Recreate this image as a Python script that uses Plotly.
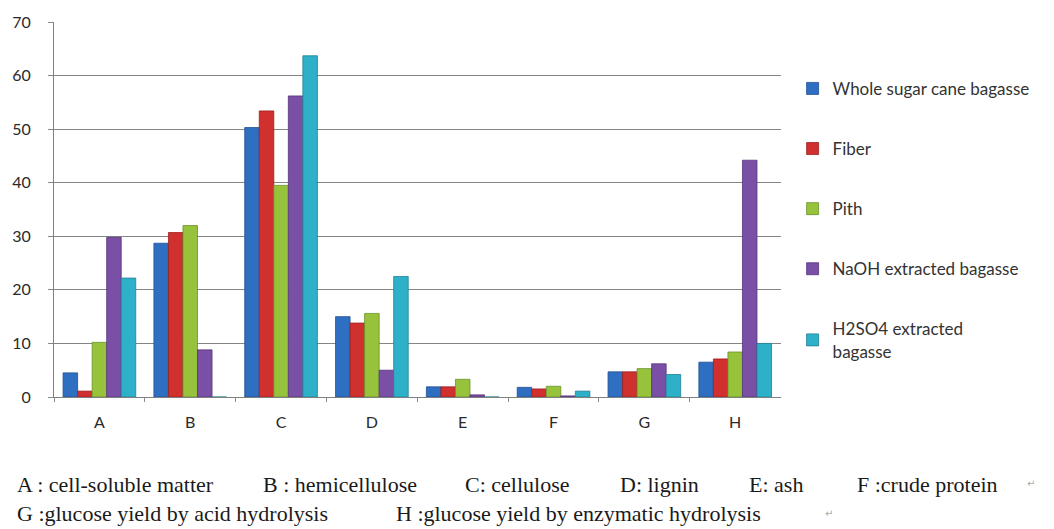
import plotly.graph_objects as go

# Components and glucose yields (%) for each bagasse fraction
categories = ["A", "B", "C", "D", "E", "F", "G", "H"]
series_names = [
    "Whole sugar cane bagasse",
    "Fiber",
    "Pith",
    "NaOH extracted bagasse",
    "H2SO4 extracted<br>bagasse",
]
whole_bagasse = [4.5, 28.7, 50.3, 15.0, 1.9, 1.8, 4.7, 6.5]
fiber = [1.1, 30.7, 53.4, 13.8, 1.9, 1.5, 4.7, 7.1]
pith = [10.2, 32.0, 39.5, 15.6, 3.3, 2.0, 5.3, 8.4]
naoh_extracted = [29.8, 8.8, 56.2, 5.0, 0.4, 0.2, 6.2, 44.2]
h2so4_extracted = [22.2, 0.0, 63.7, 22.5, 0.0, 1.1, 4.2, 10.0]
y_ticks = [0, 10, 20, 30, 40, 50, 60, 70]

colors = ["#2f6fc2", "#d0302e", "#96c23c", "#7a4fa6", "#2fb0c9"]
edge_colors = ["#1f4f90", "#9a2020", "#6a9028", "#56357a", "#1f8096"]

footnote_line1 = [
    ("A : cell-soluble matter", 14),
    ("B : hemicellulose", 262),
    ("C: cellulose", 466),
    ("D: lignin", 623),
    ("E: ash", 753),
    ("F :crude protein", 862),
]
footnote_line2 = [
    ("G :glucose yield by acid hydrolysis", 14),
    ("H :glucose yield by enzymatic hydrolysis", 396),
]

W, H = 1054, 529
L, R, T, B = 53, 267, 21, 132

fig = go.Figure()
for i, (name, vals) in enumerate(zip(series_names,
                                     [whole_bagasse, fiber, pith, naoh_extracted, h2so4_extracted])):
    fig.add_trace(go.Bar(
        x=categories, y=vals, name=name,
        legendgroup=f"g{i}",
        marker=dict(color=colors[i], line=dict(color=edge_colors[i], width=0.8)),
    ))

fig.update_layout(
    width=W, height=H,
    margin=dict(l=L, r=R, t=T, b=B, pad=0),
    paper_bgcolor="white", plot_bgcolor="white",
    barmode="group", bargap=0.2, bargroupgap=0.0,
    font=dict(family="Lato, Open Sans, sans-serif", size=16, color="#333333"),
    showlegend=True,
    legend=dict(
        x=0.752, xref="container", y=0.866, yref="container",
        xanchor="left", yanchor="top",
        tracegroupgap=35, itemwidth=30, maxheight=500,
        font=dict(family="Lato, Open Sans, sans-serif", size=17, color="#333333"),
        bgcolor="rgba(0,0,0,0)",
    ),
    xaxis=dict(
        type="category", tickson="boundaries",
        ticks="outside", ticklen=4, tickcolor="#888888",
        showline=True, linecolor="#808080", linewidth=1,
        showgrid=False,
        ticklabelstandoff=11,
        tickfont=dict(size=16, color="#2a2a2a"),
    ),
    yaxis=dict(
        range=[0, 70], tickvals=y_ticks,
        ticks="outside", ticklen=5, tickcolor="#888888",
        showline=True, linecolor="#808080", linewidth=1,
        showgrid=True, gridcolor="#858585", gridwidth=1,
        zeroline=False,
        ticklabelstandoff=14,
        tickfont=dict(size=16, color="#2a2a2a"),
    ),
)

plot_w = W - L - R
plot_h = H - T - B

def to_paper(px, py):
    return (px - L) / plot_w, (H - B - py) / plot_h

serif = dict(family="Liberation Serif, Times New Roman, serif", size=22, color="#1a1a1a")
for text, px in footnote_line1:
    x, y = to_paper(px, 485)
    fig.add_annotation(text=text, x=x, y=y, xref="paper", yref="paper",
                       xanchor="left", yanchor="middle", showarrow=False, font=serif)
for text, px in footnote_line2:
    x, y = to_paper(px, 514)
    fig.add_annotation(text=text, x=x, y=y, xref="paper", yref="paper",
                       xanchor="left", yanchor="middle", showarrow=False, font=serif)

# paragraph marks
for px, py in [(1034, 484), (830, 514)]:
    x, y = to_paper(px, py)
    fig.add_annotation(text="↵", x=x, y=y, xref="paper", yref="paper",
                       xanchor="left", yanchor="middle", showarrow=False,
                       font=dict(family="DejaVu Sans", size=10, color="#aaaaaa"))

fig.write_html("out.html")
